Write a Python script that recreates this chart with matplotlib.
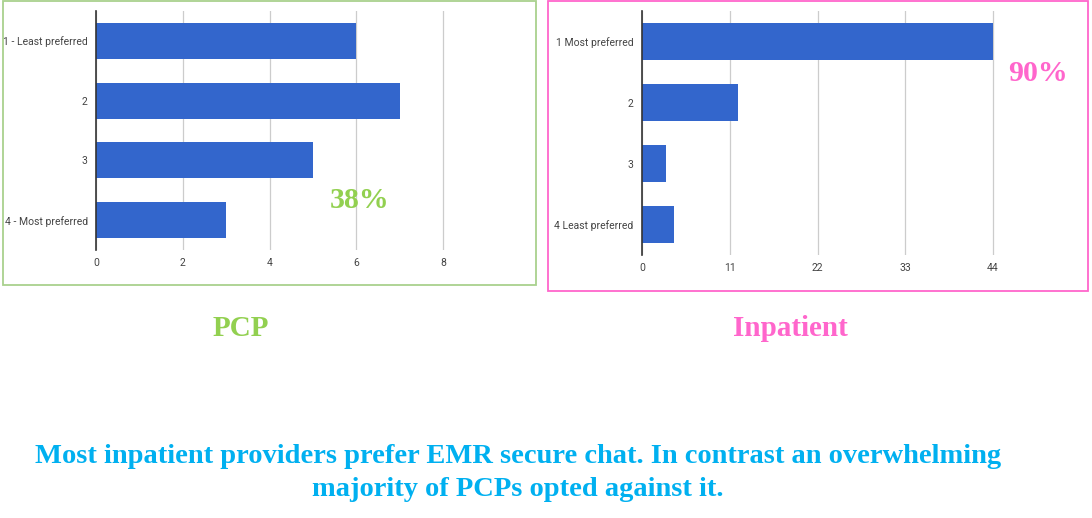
import matplotlib
matplotlib.use("Agg")
import matplotlib.pyplot as plt
from matplotlib.patches import Rectangle

# data
pcp_labels = ["1 - Least preferred", "2", "3", "4 - Most preferred"]
pcp_counts = [6, 7, 5, 3]
pcp_ticks = [0, 2, 4, 6, 8]

inp_labels = ["1 Most preferred", "2", "3", "4 Least preferred"]
inp_counts = [44, 12, 3, 4]
inp_ticks = [0, 11, 22, 33, 44]

pcp_note = "38%"
inp_note = "90%"
caption = ("Most inpatient providers prefer EMR secure chat. In contrast an overwhelming\n"
           "majority of PCPs opted against it.")

W, H = 1092, 518
BAR = "#3366cc"
GREEN = "#92d050"
PINK = "#ff66cc"
BLUE = "#00b0f0"
SERIF = "Liberation Serif"

fig = plt.figure(figsize=(W / 100, H / 100), dpi=100)


def px_axes(left, top, right, bottom):
    # pixel box -> figure fraction
    return fig.add_axes([left / W, 1 - bottom / H, (right - left) / W, (bottom - top) / H])


def bar_panel(ax, labels, counts, ticks, xmax):
    ypos = list(range(len(labels)))
    ax.barh(ypos, counts, height=0.6, color=BAR, zorder=3)
    ax.set_ylim(len(labels) - 0.5, -0.5)
    ax.set_xlim(ticks[0], xmax)
    ax.set_yticks(ypos)
    ax.set_yticklabels(labels)
    ax.set_xticks(ticks)
    ax.grid(axis="x", color="#cccccc", lw=0.9, zorder=0)
    for s in ["top", "right", "bottom"]:
        ax.spines[s].set_visible(False)
    ax.spines["left"].set_color("#333333")
    ax.spines["left"].set_linewidth(1.2)
    ax.spines["left"].set_zorder(4)
    ax.tick_params(length=0, labelsize=7.5, labelcolor="#444444")
    for t in ax.get_xticklabels() + ax.get_yticklabels():
        t.set_family("Roboto")
    ax.tick_params(axis="x", pad=6)
    ax.tick_params(axis="y", pad=6)
    ax.set_facecolor("none")


# 0..8 spans x 96..443 px, axes run on to 530 px
ax1 = px_axes(96, 11, 530, 250)
bar_panel(ax1, pcp_labels, pcp_counts, pcp_ticks, 10)

# 0..44 spans x 642..993 px, axes run on to 1040 px
ax2 = px_axes(642, 11, 1040, 255)
bar_panel(ax2, inp_labels, inp_counts, inp_ticks, 44 * 398 / 351)

# panel frames
fig.patches.append(Rectangle((3 / W, 1 - 285 / H), 533 / W, 284 / H, transform=fig.transFigure,
                             fill=False, ec="#a9d18e", lw=1.3))
fig.patches.append(Rectangle((548 / W, 1 - 291 / H), 540 / W, 290 / H, transform=fig.transFigure,
                             fill=False, ec=PINK, lw=1.3))

# percentage notes
fig.text(360 / W, 1 - 201 / H, pcp_note, color=GREEN, fontsize=21.5, fontweight="bold",
         family=SERIF, ha="center", va="center")
fig.text(1038 / W, 1 - 74 / H, inp_note, color=PINK, fontsize=21.5, fontweight="bold",
         family=SERIF, ha="center", va="center")

# panel titles
fig.text(241 / W, 1 - 329 / H, "PCP", color=GREEN, fontsize=21, fontweight="bold",
         family=SERIF, ha="center", va="center")
fig.text(790 / W, 1 - 329 / H, "Inpatient", color=PINK, fontsize=21, fontweight="bold",
         family=SERIF, ha="center", va="center")

# caption
fig.text(518 / W, 1 - 473 / H, caption, color=BLUE, fontsize=20.5, fontweight="bold",
         family=SERIF, ha="center", va="center", linespacing=1.45)

fig.savefig("out.png", dpi=100)
